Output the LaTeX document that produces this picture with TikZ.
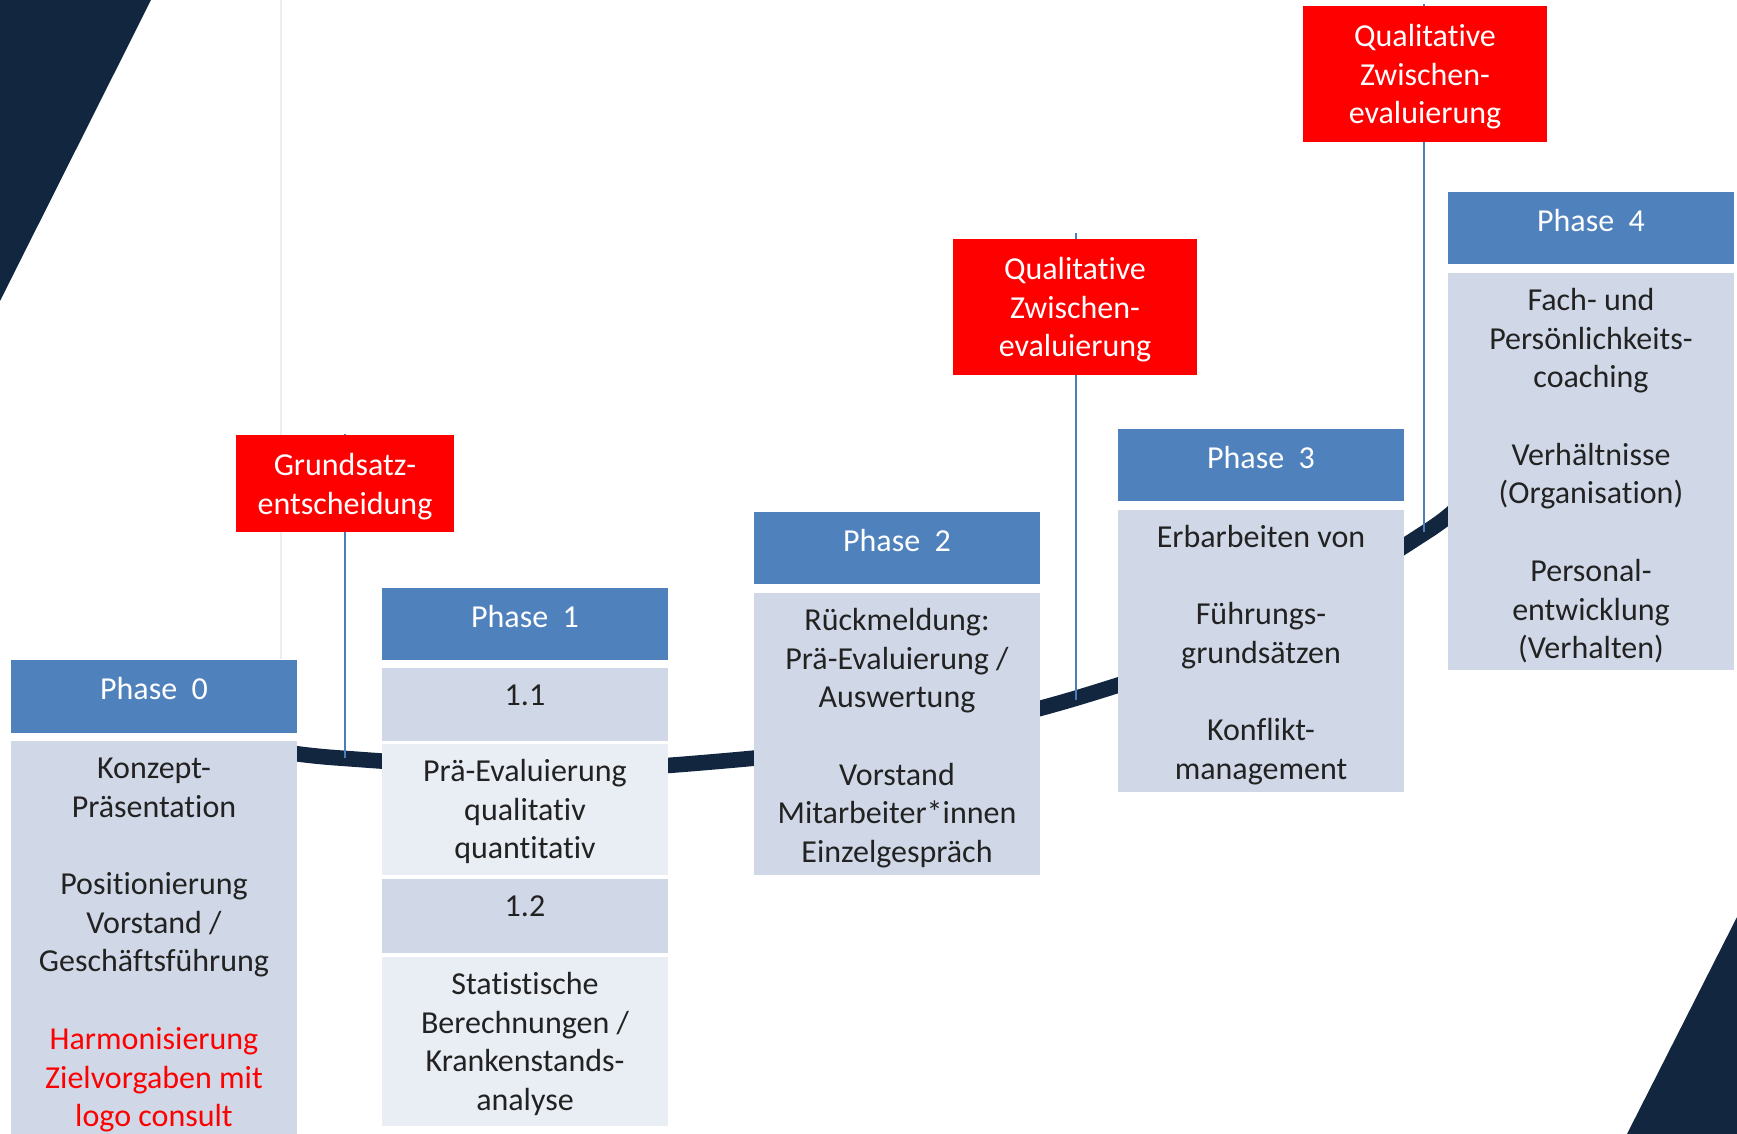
\documentclass[tikz,border=0pt]{standalone}
\usepackage{fontspec}
\setmainfont{Carlito}[Ligatures={NoCommon,NoRequired,NoContextual,NoRare},RawFeature={-liga;-clig;-dlig;-calt}]
\usetikzlibrary{backgrounds}
\definecolor{navy}{HTML}{122640}
\definecolor{hblue}{HTML}{4F81BD}
\definecolor{bodyc}{HTML}{D0D8E8}
\definecolor{lightc}{HTML}{E9EDF4}
\definecolor{redc}{HTML}{FF0000}
\definecolor{lineblue}{HTML}{4A7EBB}
\definecolor{textc}{HTML}{222222}
\newcommand\bfnt{\fontsize{16pt}{19.35pt}\selectfont}
\newcommand\tix{t\kern0pt i}
\tikzset{
  box/.style={anchor=north west, inner sep=0pt, outer sep=0pt, minimum width=143pt},
  hdr/.style={box, fill=hblue, minimum height=36pt},
  bodybox/.style={box, fill=bodyc},
  lightbox/.style={box, fill=lightc},
  redbox/.style={box, fill=redc},
  hdrtext/.style={anchor=north, inner sep=0pt, font=\bfnt, text=white},
  bodytext/.style={anchor=north, inner sep=0pt, font=\bfnt, text=textc, align=center},
  redtext/.style={anchor=north, inner sep=0pt, font=\bfnt, text=white, align=center},
  band/.style={draw=navy, line width=7.8pt},
  vline/.style={draw=lineblue, line width=1pt}
}
\begin{document}
\begin{tikzpicture}[x=0.5pt,y=-0.5pt]
\useasboundingbox (0,0) rectangle (1737,1134);
% decorative corners
\fill[navy] (0,0) -- (151,0) -- (0,301) -- cycle;
\fill[navy] (1737,917) -- (1737,1134) -- (1627,1134) -- cycle;
\draw[black!7, line width=0.6pt] (281,0) -- (281,659);

% Phase 0
\node[hdr, minimum height=36.5pt] (h0) at (11,660) {};
\node[bodybox, minimum height=196.5pt] (b0) at (11,741) {};
\node[hdrtext] (th0) at (154,672) {\strut Phase\ \ 0};
\node[bodytext] (tb0) at (154,751) {\strut Konzept-\\Präsenta\tix{}on\\[19.35pt]Posi\tix{}onierung\\Vorstand /\\Geschäftsführung\\[19.35pt]\textcolor{redc}{Harmonisierung}\\\textcolor{redc}{Zielvorgaben mit}\\\textcolor{redc}{logo consult}};

% Phase 1
\node[hdr] (h1) at (382,588) {};
\node[bodybox, minimum height=36.5pt] (b11) at (382,668) {};
\node[lightbox, minimum height=65.5pt] (b1a) at (382,744) {};
\node[bodybox, minimum height=37pt] (b12) at (382,879) {};
\node[lightbox, minimum height=84.5pt] (b1b) at (382,957) {};
\node[hdrtext] (th1) at (525,600) {\strut Phase\ \ 1};
\node[bodytext] (t11) at (525,678) {\strut 1.1};
\node[bodytext] (t1a) at (525,754) {\strut Prä-Evaluierung\\qualita\tix{}v\\quan\tix{}ta\tix{}v};
\node[bodytext] (t12) at (525,889) {\strut 1.2};
\node[bodytext] (t1b) at (525,967) {\strut Statis\tix{}sche\\Berechnungen /\\Krankenstands-\\analyse};

% Phase 2
\node[hdr] (h2) at (754,512) {};
\node[bodybox, minimum height=141pt] (b2) at (754,593) {};
\node[hdrtext] (th2) at (897,524) {\strut Phase\ \ 2};
\node[bodytext] (tb2) at (897,603) {\strut Rückmeldung:\\Prä-Evaluierung /\\Auswertung\\[19.35pt]Vorstand\\Mitarbeiter*innen\\Einzelgespräch};

% Phase 3
\node[hdr] (h3) at (1118,429) {};
\node[bodybox, minimum height=141pt] (b3) at (1118,510) {};
\node[hdrtext] (th3) at (1261,441) {\strut Phase\ \ 3};
\node[bodytext] (tb3) at (1261,520) {\strut Erbarbeiten von\\[19.35pt]Führungs-\\grundsätzen\\[19.35pt]Konflikt-\\management};

% Phase 4
\node[hdr] (h4) at (1448,192) {};
\node[bodybox, minimum height=198.5pt] (b4) at (1448,273) {};
\node[hdrtext] (th4) at (1591,204) {\strut Phase\ \ 4};
\node[bodytext] (tb4) at (1591,283) {\strut Fach- und\\Persönlichkeits-\\coaching\\[19.35pt]Verhältnisse\\(Organisa\tix{}on)\\[19.35pt]Personal-\\entwicklung\\(Verhalten)};

% Milestones
\node[redbox, minimum width=109pt, minimum height=48.5pt] (g) at (236,435) {};
\node[redtext] (tg) at (345,448) {\strut Grundsatz-\\entscheidung};
\node[redbox, minimum width=122pt, minimum height=68pt] (q1) at (953,239) {};
\node[redtext] (tq1) at (1075,252) {\strut Qualita\tix{}ve\\Zwischen-\\evaluierung};
\node[redbox, minimum width=122pt, minimum height=68pt] (q2) at (1303,6) {};
\node[redtext] (tq2) at (1425,19) {\strut Qualita\tix{}ve\\Zwischen-\\evaluierung};

\coordinate (cg) at (345,758);
\coordinate (cq1) at (1076,700);
\coordinate (cq2) at (1424,532);

\begin{pgfonlayer}{background}
\draw[band] plot[smooth, tension=0.55] coordinates {(280,751) (339,758) (547,770) (711,762) (900,740) (1080,697) (1261,631) (1426,532) (1462,502)};
\draw[vline] ([yshift=0.5pt]g.north -| cg) -- (cg);
\draw[vline] ([yshift=3pt]q1.north -| cq1) -- (cq1);
\draw[vline] ([yshift=1pt]q2.north -| cq2) -- (cq2);
\end{pgfonlayer}
\end{tikzpicture}
\end{document}
